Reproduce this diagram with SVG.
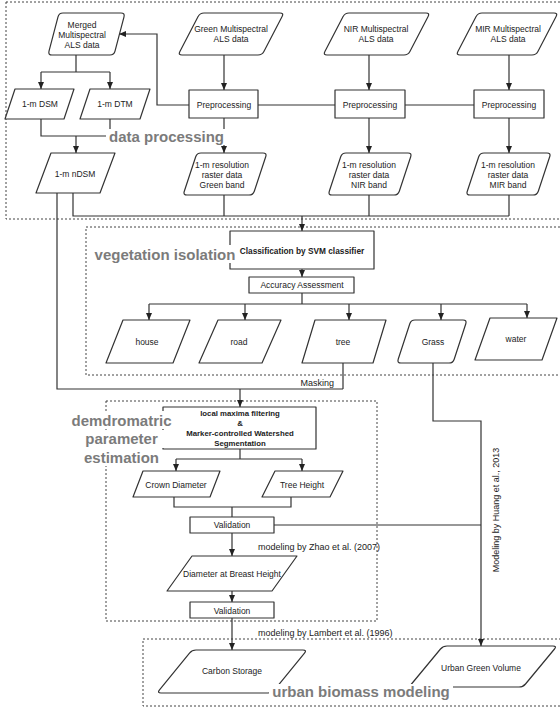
<svg xmlns="http://www.w3.org/2000/svg" width="560" height="711" viewBox="0 0 560 711">
<defs>
<marker id="ah" markerWidth="8" markerHeight="8" refX="7" refY="4" orient="auto" markerUnits="userSpaceOnUse"><path d="M0,1 L7,4 L0,7 Z" fill="#222"/></marker>
<style>
.bg{fill:#fff}
.zone{fill:none;stroke:#444;stroke-width:1;stroke-dasharray:2,2}
.zl{font-family:"Liberation Sans",Arial,sans-serif;font-weight:bold;font-size:15px;fill:#7b7b7b;text-anchor:middle}
.n{fill:#fff;stroke:#333;stroke-width:1.2;stroke-linejoin:round}
.t{font-family:"Liberation Sans",Arial,sans-serif;font-size:8.5px;fill:#222;text-anchor:middle}
.tb{font-family:"Liberation Sans",Arial,sans-serif;font-size:8.3px;font-weight:bold;fill:#222;text-anchor:middle}
.tb2{font-family:"Liberation Sans",Arial,sans-serif;font-size:7.8px;font-weight:bold;fill:#222;text-anchor:middle}
.lb{font-family:"Liberation Sans",Arial,sans-serif;font-size:9px;fill:#222}
.c{fill:none;stroke:#333;stroke-width:1.2}
.ca{fill:none;stroke:#333;stroke-width:1.2;marker-end:url(#ah)}
</style>
</defs>
<rect width="560" height="711" fill="#fff"/>

<g id="zones">
<rect id="zone-data" class="zone" x="6" y="2" width="556" height="217"/>
<rect id="zone-veg" class="zone" x="86" y="227" width="476" height="148"/>
<rect id="zone-dem" class="zone" x="106" y="401" width="271" height="220"/>
<rect id="zone-urban" class="zone" x="143" y="639" width="419" height="67"/>
</g>

<g id="connectors">
<path class="c" d="M76,55 V72 M41,72 H110"/>
<path class="ca" d="M41,72 V89"/>
<path class="ca" d="M110,72 V89"/>
<path class="c" d="M41,119 V136 H110 M110,119 V136"/>
<path class="ca" d="M76,136 V153"/>
<path class="ca" d="M224,55 V90"/>
<path class="ca" d="M369,55 V90"/>
<path class="ca" d="M509,55 V90"/>
<path class="ca" d="M224,118 V153"/>
<path class="ca" d="M369,118 V153"/>
<path class="ca" d="M509,118 V153"/>
<path class="ca" d="M189,105 H157 V34 H119"/>
<path class="c" d="M258,105 H335 M405,105 H474"/>
<path class="c" d="M224,195 V216 M369,195 V216 M509,195 V216 M73,193 V216 H509"/>
<path class="ca" d="M302,216 V231"/>
<path class="ca" d="M302,269 V277"/>
<path class="c" d="M302,293 V304 M149,304 H527"/>
<path class="ca" d="M149,304 V320"/>
<path class="ca" d="M245,304 V320"/>
<path class="ca" d="M349,304 V320"/>
<path class="ca" d="M441,304 V320"/>
<path class="ca" d="M527,304 V318"/>
<path class="c" d="M57,193 V389 H343 M343,363 V389"/>
<path class="ca" d="M240,389 V407"/>
<path class="ca" d="M433,363 V421 H481 V646"/>
<path class="c" d="M240,449 V459 M176,459 H302"/>
<path class="ca" d="M176,459 V471"/>
<path class="ca" d="M302,459 V471"/>
<path class="c" d="M174,497 V507 H291 V497 M232,507 V517"/>
<path class="c" d="M274,525 H481"/>
<path class="ca" d="M232,533 V556"/>
<path class="ca" d="M232,591 V602"/>
<path class="ca" d="M232,618 V650"/>
<text class="lb" x="334" y="386" text-anchor="end">Masking</text>
<text class="lb" x="258" y="550">modeling by Zhao et al. (2007)</text>
<text class="lb" x="258" y="636">modeling by Lambert et al. (1996)</text>
<text class="lb" transform="translate(499,510) rotate(-90)" text-anchor="middle">Modeling by Huang et al., 2013</text>
</g>

<g id="merged">
<path class="n" d="M63,13 L121,13 Q125,13 124,16.9 L115,51.1 Q114,55 110,55 L52,55 Q48,55 49,51.1 L58,16.9 Q59,13 63,13 Z"/>
<text class="t" x="82" y="28">Merged</text>
<text class="t" x="82" y="38">Multispectral</text>
<text class="t" x="82" y="48">ALS data</text>
</g>
<g id="green-data">
<path class="n" d="M204,13 L280,13 Q284,13 282.1,16.5 L263.9,51.5 Q262,55 258,55 L182,55 Q178,55 179.9,51.5 L198.1,16.5 Q200,13 204,13 Z"/>
<text class="t" x="231" y="32">Green Multispectral</text>
<text class="t" x="231" y="42">ALS data</text>
</g>
<g id="nir-data">
<path class="n" d="M349,13 L426,13 Q430,13 428.1,16.5 L409.9,51.5 Q408,55 404,55 L327,55 Q323,55 324.9,51.5 L343.1,16.5 Q345,13 349,13 Z"/>
<text class="t" x="376" y="32">NIR Multispectral</text>
<text class="t" x="376" y="42">ALS data</text>
</g>
<g id="mir-data">
<path class="n" d="M482,13 L554,13 Q558,13 556.1,16.5 L537.9,51.5 Q536,55 532,55 L460,55 Q456,55 457.9,51.5 L476.1,16.5 Q478,13 482,13 Z"/>
<text class="t" x="508" y="32">MIR Multispectral</text>
<text class="t" x="508" y="42">ALS data</text>
</g>
<g id="pre-green"><rect class="n" x="189" y="90" width="69" height="28"/><text class="t" x="224" y="108">Preprocessing</text></g>
<g id="pre-nir"><rect class="n" x="335" y="90" width="70" height="28"/><text class="t" x="370" y="108">Preprocessing</text></g>
<g id="pre-mir"><rect class="n" x="474" y="90" width="70" height="28"/><text class="t" x="509" y="108">Preprocessing</text></g>
<g id="dsm"><polygon class="n" points="15,89 74,89 64,119 5,119"/><text class="t" x="40" y="107">1-m DSM</text></g>
<g id="dtm"><polygon class="n" points="90,89 150,89 140,119 80,119"/><text class="t" x="115" y="107">1-m DTM</text></g>
<g id="ndsm"><polygon class="n" points="51,153 115,153 100,193 36,193"/><text class="t" x="75" y="177">1-m nDSM</text></g>
<g id="green-raster">
<path class="n" d="M201,153 L263,153 Q267,153 265.7,156.8 L254.3,191.2 Q253,195 249,195 L187,195 Q183,195 184.3,191.2 L195.7,156.8 Q197,153 201,153 Z"/>
<text class="t" x="222" y="168">1-m resolution</text>
<text class="t" x="222" y="178">raster data</text>
<text class="t" x="222" y="188">Green band</text>
</g>
<g id="nir-raster">
<path class="n" d="M346,153 L408,153 Q412,153 410.7,156.8 L399.3,191.2 Q398,195 394,195 L332,195 Q328,195 329.3,191.2 L340.7,156.8 Q342,153 346,153 Z"/>
<text class="t" x="369" y="168">1-m resolution</text>
<text class="t" x="369" y="178">raster data</text>
<text class="t" x="369" y="188">NIR band</text>
</g>
<g id="mir-raster">
<path class="n" d="M484,153 L547,153 Q551,153 549.7,156.8 L538.3,191.2 Q537,195 533,195 L470,195 Q466,195 467.3,191.2 L478.7,156.8 Q480,153 484,153 Z"/>
<text class="t" x="508" y="168">1-m resolution</text>
<text class="t" x="508" y="178">raster data</text>
<text class="t" x="508" y="188">MIR band</text>
</g>
<g id="svm"><rect class="n" x="230" y="231" width="144" height="38"/><text class="tb" x="302" y="254">Classification by SVM classifier</text></g>
<g id="accuracy"><rect class="n" x="249" y="277" width="105" height="16"/><text class="t" x="302" y="288">Accuracy Assessment</text></g>
<g id="house"><polygon class="n" points="123,320 190,320 173,363 106,363"/><text class="t" x="147" y="345">house</text></g>
<g id="road"><polygon class="n" points="218,320 281,320 262,363 199,363"/><text class="t" x="239" y="345">road</text></g>
<g id="tree"><polygon class="n" points="315,320 386,320 373,363 302,363"/><text class="t" x="343" y="345">tree</text></g>
<g id="grass">
<path class="n" d="M415,320 L463,320 Q467,320 465.8,323.8 L454.2,359.2 Q453,363 449,363 L401,363 Q397,363 398.2,359.2 L409.8,323.8 Q411,320 415,320 Z"/>
<text class="t" x="433" y="345">Grass</text>
</g>
<g id="water"><polygon class="n" points="490,318 557,318 542,360 475,360"/><text class="t" x="516" y="342">water</text></g>
<g id="segmentation">
<rect class="n" x="163" y="407" width="153" height="42"/>
<text class="tb2" x="240" y="416">local maxima filtering</text>
<text class="tb2" x="240" y="426">&amp;</text>
<text class="tb2" x="240" y="436">Marker-controlled Watershed</text>
<text class="tb2" x="240" y="446">Segmentation</text>
</g>
<g id="crown"><polygon class="n" points="143,471 220,471 210,497 133,497"/><text class="t" x="176" y="488">Crown Diameter</text></g>
<g id="height"><polygon class="n" points="275,471 343,471 330,497 262,497"/><text class="t" x="302" y="488">Tree Height</text></g>
<g id="validation1"><rect class="n" x="190" y="517" width="84" height="16"/><text class="t" x="232" y="528">Validation</text></g>
<g id="dbh"><polygon class="n" points="192,556 297,556 272,591 167,591"/><text class="t" x="232" y="577">Diameter at Breast Height</text></g>
<g id="validation2"><rect class="n" x="190" y="602" width="84" height="16"/><text class="t" x="232" y="614">Validation</text></g>
<g id="carbon">
<path class="n" d="M196,650 L303,650 Q307,650 304.5,653.1 L274.5,689.9 Q272,693 268,693 L161,693 Q157,693 159.5,689.9 L189.5,653.1 Q192,650 196,650 Z"/>
<text class="t" x="232" y="674">Carbon Storage</text>
</g>
<g id="ugv">
<path class="n" d="M447,646 L553,646 Q557,646 554.5,649 L525.5,684 Q523,687 519,687 L413,687 Q409,687 411.5,684 L440.5,649 Q443,646 447,646 Z"/>
<text class="t" x="481" y="671">Urban Green Volume</text>
</g>

<g id="zone-labels">
<rect class="bg" x="106" y="129" width="122" height="16"/>
<text class="zl" x="166.5" y="142">data processing</text>
<rect class="bg" x="92" y="245" width="146" height="18"/>
<text class="zl" x="165" y="260">vegetation isolation</text>
<rect class="bg" x="70" y="411" width="105" height="18"/>
<rect class="bg" x="74" y="430" width="93" height="18"/>
<rect class="bg" x="82" y="449" width="79" height="17"/>
<text class="zl" x="121.5" y="425.5">demdromatric</text>
<text class="zl" x="121.5" y="444">parameter</text>
<text class="zl" x="121.5" y="462.5">estimation</text>
<rect class="bg" x="269" y="684" width="184" height="18"/>
<text class="zl" x="361" y="697">urban biomass modeling</text>
</g>
</svg>
